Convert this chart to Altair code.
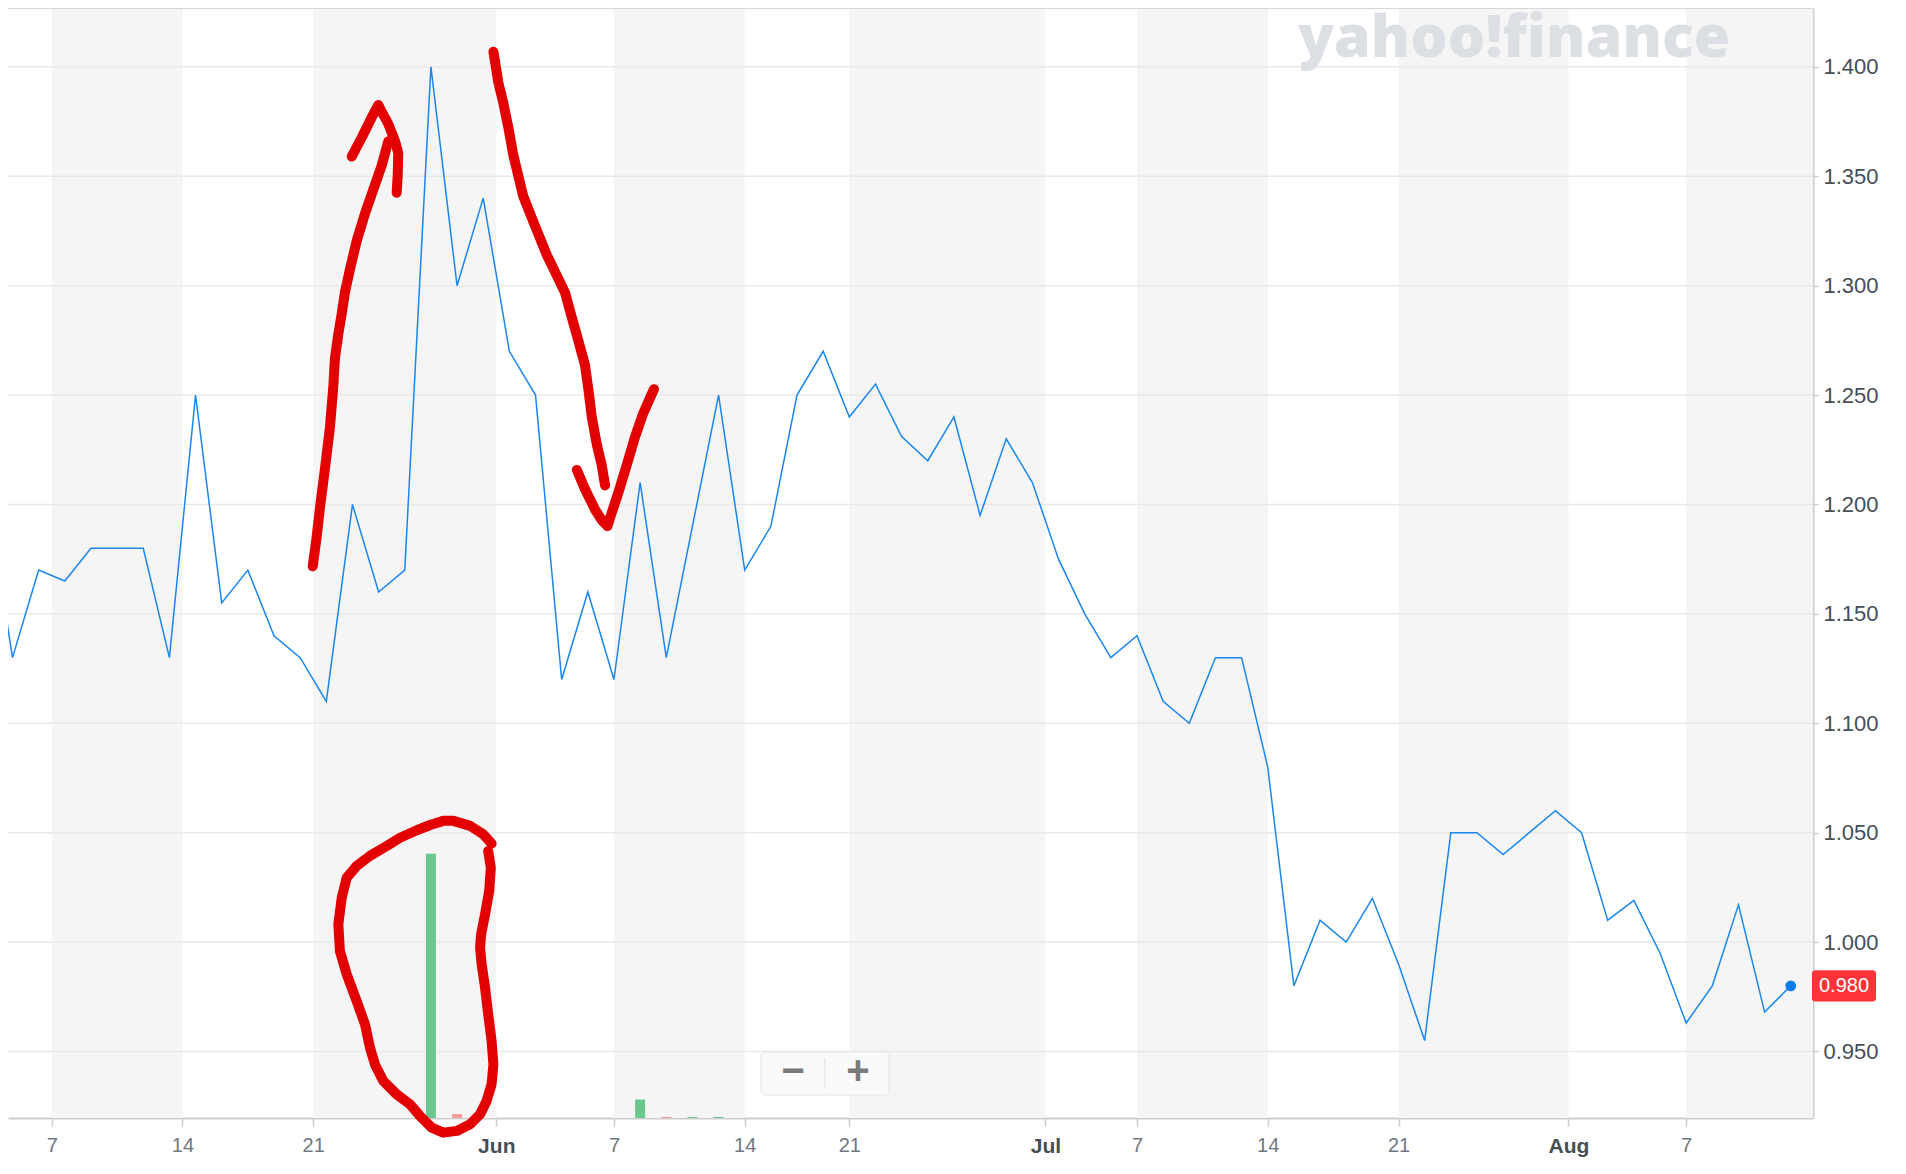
import altair as alt
import pandas as pd

# ---------------- data ----------------
# Closing prices by trading-day index (index -1 is just off the left edge)
first_index = -1
price = [1.207, 1.13, 1.17, 1.165, 1.18, 1.18, 1.18, 1.13, 1.25, 1.155,
         1.17, 1.14, 1.13, 1.11, 1.20, 1.16, 1.17, 1.40, 1.30, 1.34,
         1.27, 1.25, 1.12, 1.16, 1.12, 1.21, 1.13, 1.19, 1.25, 1.17,
         1.19, 1.25, 1.27, 1.24, 1.255, 1.231, 1.22, 1.24, 1.195, 1.23,
         1.21, 1.175, 1.15, 1.13, 1.14, 1.11, 1.10, 1.13, 1.13, 1.08,
         0.98, 1.01, 1.00, 1.02, 0.99, 0.955, 1.05, 1.05, 1.04, 1.05,
         1.06, 1.05, 1.01, 1.019, 0.995, 0.963, 0.98, 1.017, 0.968, 0.98]

# Volume (relative units) on the few sessions that show a bar
volume_index = [16, 17, 24, 25, 26, 27]
volume = [100, 1.5, 7.0, 0.4, 0.4, 0.4]

# x-axis ticks (trading-day index) and their labels
tick_pos = [1.5, 6.5, 11.5, 18.5, 23, 28, 32, 39.5, 43, 48, 53, 59.5, 64]
tick_labels = ["7", "14", "21", "Jun", "7", "14", "21", "Jul", "7", "14", "21", "Aug", "7"]
month_names = ["Jun", "Jul", "Aug"]

# y-axis ticks
price_ticks = [0.95, 1.00, 1.05, 1.10, 1.15, 1.20, 1.25, 1.30, 1.35, 1.40]

watermark = "yahoo!finance"
zoom_minus = "\u2212"
zoom_plus = "+"

# Hand-drawn red marks, in (trading-day index, price) coordinates
stroke_up_shaft = [(11.48, 1.1717), (11.63, 1.1851), (11.78, 1.2008), (11.95, 1.2165),
                   (12.14, 1.2354), (12.27, 1.2543), (12.33, 1.2669), (12.46, 1.2779),
                   (12.59, 1.2873), (12.71, 1.2968), (12.91, 1.3078), (13.16, 1.3204),
                   (13.48, 1.3330), (13.80, 1.3440), (14.12, 1.3550), (14.37, 1.3660)]
stroke_up_head = [(12.97, 1.3590), (13.35, 1.3676), (13.74, 1.3770), (13.99, 1.3826),
                  (14.12, 1.3794), (14.37, 1.3739), (14.63, 1.3660), (14.75, 1.3606),
                  (14.73, 1.3503), (14.69, 1.3425)]
stroke_down_shaft = [(18.39, 1.4069), (18.58, 1.3928), (18.77, 1.3834), (18.96, 1.3723),
                     (19.15, 1.3597), (19.34, 1.3503), (19.53, 1.3409), (19.79, 1.3330),
                     (20.11, 1.3235), (20.43, 1.3141), (20.81, 1.3047), (21.13, 1.2968),
                     (21.38, 1.2858), (21.64, 1.2748), (21.89, 1.2638), (22.02, 1.2527),
                     (22.15, 1.2401), (22.34, 1.2276), (22.53, 1.2181), (22.66, 1.2087)]
stroke_down_head = [(21.58, 1.2158), (21.89, 1.2071), (22.28, 1.1976), (22.53, 1.1929),
                    (22.75, 1.1901), (22.91, 1.1961), (23.17, 1.2055), (23.49, 1.2181),
                    (23.80, 1.2307), (24.12, 1.2417), (24.53, 1.2527)]
stroke_loop = [(18.32, 1.0450), (18.00, 1.0493), (17.50, 1.0531), (16.86, 1.0554),
               (16.47, 1.0554), (15.97, 1.0535), (15.46, 1.0511), (14.82, 1.0477),
               (14.31, 1.0439), (13.67, 1.0394), (13.16, 1.0348), (12.78, 1.0294),
               (12.59, 1.0203), (12.46, 1.0081), (12.52, 0.9959), (12.78, 0.9853),
               (13.16, 0.9731), (13.48, 0.9624), (13.67, 0.9517), (13.86, 0.9441),
               (14.18, 0.9365), (14.69, 0.9304), (15.20, 0.9259), (15.58, 0.9205),
               (16.03, 0.9152), (16.47, 0.9129), (16.99, 0.9137), (17.50, 0.9167),
               (17.88, 0.9213), (18.13, 0.9274), (18.32, 0.9350), (18.39, 0.9441),
               (18.32, 0.9548), (18.19, 0.9670), (18.07, 0.9792), (17.94, 0.9898),
               (17.88, 0.9974), (17.92, 1.0036), (18.07, 1.0127), (18.23, 1.0234),
               (18.29, 1.0340), (18.19, 1.0416)]
strokes = [stroke_up_shaft, stroke_up_head, stroke_down_shaft, stroke_down_head, stroke_loop]

# ---------------- tables ----------------
line_df = pd.DataFrame({"k": list(range(first_index, first_index + len(price))), "p": price})
last_df = line_df.tail(1).reset_index(drop=True)

vol_dir = ["up" if price[i - first_index] >= price[i - first_index - 1] else "down"
           for i in volume_index]
vol_df = pd.DataFrame({"k": volume_index, "v": volume, "dir": vol_dir})

band_starts = tick_pos[0::2]
band_ends = tick_pos[1::2] + [80]
bands_df = pd.DataFrame({"start": band_starts, "end": band_ends})

grid_df = pd.DataFrame({"g": price_ticks})

ann_rows = []
for sid, pts in enumerate(strokes):
    for j, (kk, pp) in enumerate(pts):
        ann_rows.append({"stroke": sid, "seq": j, "k": kk, "p": pp})
ann_df = pd.DataFrame(ann_rows)

wm_df = pd.DataFrame({"t": [watermark]})
minus_df = pd.DataFrame({"t": [zoom_minus]})
plus_df = pd.DataFrame({"t": [zoom_plus]})

# ---------------- layout ----------------
W, H = 1805, 1110
xs = alt.Scale(domain=[-0.172, 68.85], nice=False, zero=False, padding=0)
ys = alt.Scale(domain=[0.9196, 1.4269], nice=False, zero=False, padding=0)

pos_list = ",".join(str(float(v)) for v in tick_pos)
lab_list = ",".join("'" + s + "'" for s in tick_labels)
month_pos = ",".join(str(float(tick_pos[i])) for i, s in enumerate(tick_labels) if s in month_names)
is_month = f"indexof([{month_pos}], datum.value) >= 0"

xaxis = alt.Axis(
    values=tick_pos,
    labelExpr=f"[{lab_list}][indexof([{pos_list}], datum.value)]",
    title=None, grid=False,
    domainColor="#cdcdcd", domainWidth=2,
    tickColor="#cdcdcd", tickWidth=1.5, tickSize=8,
    labelFont="Liberation Sans",
    labelFontSize={"condition": {"test": is_month, "value": 21}, "value": 20},
    labelColor={"condition": {"test": is_month, "value": "#464e56"}, "value": "#6f7780"},
    labelFontWeight={"condition": {"test": is_month, "value": "bold"}, "value": "normal"},
    labelPadding=9, labelFlush=False, labelOverlap=False,
)
yaxis = alt.Axis(
    orient="right", values=price_ticks, format=".3f", title=None, grid=False,
    domainColor="#cdcdcd", domainWidth=2,
    tickColor="#cdcdcd", tickWidth=1.5, tickSize=5,
    labelFont="Liberation Sans", labelFontSize=22, labelColor="#464e56",
    labelPadding=5,
)

def X(field):
    return alt.X(field, scale=xs, axis=xaxis)

def Y(field):
    return alt.Y(field, scale=ys, axis=None)

bands = alt.Chart(bands_df).mark_rect(color="#f5f5f5", clip=True).encode(
    x=X("start:Q"), x2="end:Q", y=alt.value(0), y2=alt.value(H)
)

grid = alt.Chart(grid_df).mark_rule(color="#e9e9e9", strokeWidth=1.5).encode(y=Y("g:Q"))

top_border = alt.Chart(wm_df).mark_rule(color="#d6d6d6", strokeWidth=1).encode(
    y=alt.value(0.5)
)

vol = alt.Chart(vol_df).mark_bar(size=10).encode(
    x=X("k:Q"),
    y=alt.Y("v:Q", scale=alt.Scale(domain=[0, 420], nice=False, zero=True, padding=0), axis=None),
    color=alt.Color("dir:N", scale=alt.Scale(domain=["up", "down"], range=["#6ac88f", "#f79b9b"]),
                    legend=None),
)

line = alt.Chart(line_df).mark_line(color="#1a86f0", strokeWidth=1.5, clip=True).encode(
    x=X("k:Q"), y=alt.Y("p:Q", scale=ys, axis=yaxis)
)

dot = alt.Chart(last_df).mark_point(filled=True, size=115, color="#0a7cf0", opacity=1).encode(
    x=X("k:Q"), y=Y("p:Q")
)

ann = alt.Chart(ann_df).mark_line(color="#e30000", strokeWidth=10, strokeCap="round",
                                  strokeJoin="round").encode(
    x=X("k:Q"), y=Y("p:Q"), detail="stroke:N", order="seq:Q"
)

wm = alt.Chart(wm_df).mark_text(font="Open Sans", fontSize=59, fontWeight=800, color="#dcdfe3",
                                align="left", baseline="alphabetic").encode(
    x=alt.value(1290), y=alt.value(49), text="t:N"
)

btn_box = alt.Chart(wm_df).mark_rect(fill="#fafafa", stroke="#e4e4e4", strokeWidth=1,
                                     cornerRadius=4).encode(
    x=alt.value(753), x2=alt.value(881), y=alt.value(1044), y2=alt.value(1087)
)
btn_sep = alt.Chart(wm_df).mark_rule(color="#dedede", strokeWidth=1).encode(
    x=alt.value(817), y=alt.value(1050), y2=alt.value(1081)
)
btn_style = dict(font="Liberation Sans", fontSize=40, fontWeight="bold", color="#7a7a7a",
                 align="center", baseline="middle")
btn_minus = alt.Chart(minus_df).mark_text(**btn_style).encode(
    x=alt.value(785), y=alt.value(1064), text="t:N"
)
btn_plus = alt.Chart(plus_df).mark_text(**btn_style).encode(
    x=alt.value(850), y=alt.value(1064), text="t:N"
)

tag_box = alt.Chart(last_df).transform_calculate(
    top="datum.p + 0.0071", bot="datum.p - 0.0071"
).mark_rect(color="#ff333a", cornerRadius=3).encode(
    x=alt.value(W - 1), x2=alt.value(W + 63), y=Y("top:Q"), y2="bot:Q"
)
tag_txt = alt.Chart(last_df).mark_text(font="Liberation Sans", fontSize=20, color="white",
                                       align="center", baseline="middle").encode(
    x=alt.value(W + 31), y=Y("p:Q"), text=alt.Text("p:Q", format=".3f")
)

chart = alt.layer(
    bands, grid, top_border, vol, line, dot, ann, wm, btn_box, btn_sep, btn_minus, btn_plus,
    tag_box, tag_txt
).resolve_scale(y="independent").properties(
    width=W, height=H,
    autosize=alt.AutoSizeParams(type="none"),
    padding={"left": 0, "top": 0, "right": 82, "bottom": 46},
    background="white"
).configure_view(stroke=None)

chart.save("out.html", embed_options={"renderer": "svg", "actions": False})
